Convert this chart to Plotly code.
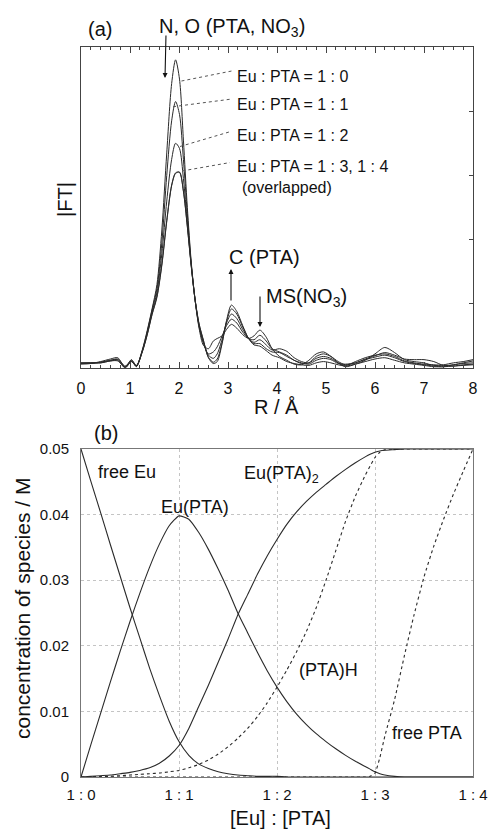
import plotly.graph_objects as go

# ---------------- (a) EXAFS Fourier transforms ----------------
R = [0.0, 0.2, 0.4, 0.6, 0.75, 0.9, 1.03, 1.13, 1.25, 1.35, 1.45, 1.55, 1.65, 1.75,
     1.85, 1.93, 2.01, 2.09, 2.17, 2.25, 2.33, 2.41, 2.5, 2.6, 2.7, 2.78, 2.88, 2.97,
     3.07, 3.18, 3.3, 3.42, 3.53, 3.65, 3.78, 3.9, 4.05, 4.2, 4.35, 4.5, 4.65, 4.8,
     4.95, 5.1, 5.25, 5.4, 5.6, 5.8, 6.0, 6.2, 6.4, 6.6, 6.8, 7.0, 7.2, 7.4, 7.6,
     7.8, 8.0]

ft_1_0 = [0.06, 0.07, 0.10, 0.14, 0.16, 0.01, 0.13, 0.03, 0.28, 0.58, 0.92, 1.30, 2.15, 3.35,
          4.43, 4.80, 4.50, 3.55, 2.50, 1.65, 1.05, 0.62, 0.35, 0.30, 0.42, 0.46, 0.50, 0.60,
          0.68, 0.62, 0.52, 0.46, 0.50, 0.59, 0.48, 0.30, 0.18, 0.12, 0.06, 0.05, 0.12, 0.22,
          0.25, 0.18, 0.08, 0.02, 0.06, 0.12, 0.22, 0.32, 0.24, 0.13, 0.10, 0.08, 0.04, 0.05,
          0.08, 0.10, 0.13]
ft_1_1 = [0.07, 0.07, 0.09, 0.12, 0.14, 0.03, 0.11, 0.02, 0.27, 0.56, 0.90, 1.24, 1.95, 3.00,
          3.85, 4.15, 3.95, 3.25, 2.40, 1.62, 1.05, 0.64, 0.38, 0.22, 0.25, 0.33, 0.50, 0.66,
          0.76, 0.70, 0.56, 0.46, 0.44, 0.51, 0.42, 0.30, 0.25, 0.20, 0.12, 0.07, 0.08, 0.18,
          0.22, 0.18, 0.10, 0.05, 0.08, 0.14, 0.19, 0.24, 0.20, 0.14, 0.13, 0.13, 0.10, 0.04,
          0.05, 0.07, 0.08]
ft_1_2 = [0.07, 0.08, 0.08, 0.11, 0.12, 0.00, 0.10, 0.03, 0.26, 0.54, 0.87, 1.18, 1.78, 2.60,
          3.25, 3.50, 3.42, 2.95, 2.28, 1.60, 1.05, 0.66, 0.40, 0.20, 0.15, 0.22, 0.45, 0.70,
          0.84, 0.77, 0.60, 0.46, 0.40, 0.44, 0.36, 0.28, 0.30, 0.26, 0.16, 0.10, 0.08, 0.15,
          0.18, 0.15, 0.08, 0.04, 0.10, 0.16, 0.20, 0.22, 0.18, 0.11, 0.08, 0.06, 0.05, 0.04,
          0.03, 0.05, 0.06]
ft_1_3 = [0.08, 0.08, 0.09, 0.12, 0.13, 0.02, 0.12, 0.04, 0.25, 0.52, 0.84, 1.12, 1.62, 2.30,
          2.85, 3.04, 3.05, 2.75, 2.20, 1.58, 1.05, 0.68, 0.42, 0.17, 0.09, 0.14, 0.40, 0.72,
          0.92, 0.84, 0.64, 0.46, 0.38, 0.38, 0.30, 0.25, 0.24, 0.18, 0.12, 0.08, 0.06, 0.12,
          0.15, 0.13, 0.07, 0.06, 0.08, 0.13, 0.17, 0.20, 0.16, 0.10, 0.07, 0.05, 0.03, 0.02,
          0.05, 0.08, 0.11]
ft_1_4 = [0.08, 0.08, 0.08, 0.11, 0.11, 0.01, 0.10, 0.03, 0.25, 0.51, 0.83, 1.10, 1.60, 2.28,
          2.84, 3.03, 3.05, 2.76, 2.21, 1.59, 1.06, 0.69, 0.43, 0.16, 0.07, 0.10, 0.38, 0.74,
          0.98, 0.88, 0.66, 0.46, 0.36, 0.34, 0.27, 0.20, 0.16, 0.10, 0.07, 0.05, 0.04, 0.08,
          0.10, 0.08, 0.05, 0.03, 0.06, 0.10, 0.14, 0.16, 0.12, 0.08, 0.06, 0.04, 0.02, 0.02,
          0.03, 0.04, 0.05]

ft_series = [ft_1_0, ft_1_1, ft_1_2, ft_1_3, ft_1_4]
ft_names = ["1:0", "1:1", "1:2", "1:3", "1:4"]
r_ticks = [0, 1, 2, 3, 4, 5, 6, 7, 8]

# ---------------- (b) speciation ----------------
ratio = [0.0, 0.1, 0.2, 0.3, 0.4, 0.5, 0.6, 0.7, 0.8, 0.9, 1.0, 1.1, 1.2, 1.3, 1.4, 1.5,
         1.6, 1.7, 1.8, 1.9, 2.0, 2.1, 2.2, 2.3, 2.4, 2.5, 2.6, 2.7, 2.8, 2.9, 2.95, 3.0,
         3.05, 3.1, 3.2, 3.3, 3.4, 3.5, 3.6, 3.7, 3.8, 3.9, 4.0]

free_eu = [0.0500, 0.0451, 0.0403, 0.0354, 0.0306, 0.0258, 0.0212, 0.0166, 0.0124, 0.0085,
           0.0054, 0.0033, 0.0020, 0.0013, 0.0008, 0.0005, 0.0003, 0.0002, 0.0001, 0.0001,
           0.0001, 0.0, 0.0, 0.0, 0.0, 0.0, 0.0, 0.0, 0.0, 0.0, 0.0, 0.0,
           0.0, 0.0, 0.0, 0.0, 0.0, 0.0, 0.0, 0.0, 0.0, 0.0, 0.0]
eu_pta = [0.0, 0.0049, 0.0097, 0.0145, 0.0192, 0.0237, 0.0280, 0.0320, 0.0355, 0.0383,
          0.0398, 0.0393, 0.0373, 0.0347, 0.0317, 0.0285, 0.0250, 0.0220, 0.0190, 0.0162,
          0.0137, 0.0115, 0.0096, 0.0080, 0.0066, 0.0054, 0.0043, 0.0033, 0.0024, 0.0016,
          0.0012, 0.0008, 0.0005, 0.0003, 0.0001, 0.0, 0.0, 0.0, 0.0, 0.0, 0.0, 0.0, 0.0]
eu_pta2 = [0.0, 0.0001, 0.0002, 0.0003, 0.0005, 0.0007, 0.0010, 0.0014, 0.0021, 0.0032,
           0.0048, 0.0074, 0.0107, 0.0140, 0.0175, 0.0210, 0.0247, 0.0278, 0.0309, 0.0337,
           0.0362, 0.0385, 0.0404, 0.0420, 0.0434, 0.0446, 0.0458, 0.0469, 0.0479, 0.0488,
           0.0492, 0.0495, 0.0497, 0.0498, 0.0499, 0.0500, 0.0500, 0.0500, 0.0500, 0.0500,
           0.0500, 0.0500, 0.0500]
pta_h = [0.0, 0.0, 0.0001, 0.0001, 0.0002, 0.0003, 0.0004, 0.0005, 0.0006, 0.0008,
         0.0010, 0.0014, 0.0019, 0.0026, 0.0035, 0.0046, 0.0059, 0.0074, 0.0092, 0.0113,
         0.0137, 0.0163, 0.0191, 0.0222, 0.0258, 0.0300, 0.0345, 0.0390, 0.0428, 0.0460,
         0.0474, 0.0487, 0.0495, 0.0499, 0.0500, 0.0500, 0.0500, 0.0500, 0.0500, 0.0500,
         0.0500, 0.0500, 0.0500]
free_pta = [0.0, 0.0, 0.0, 0.0, 0.0, 0.0, 0.0, 0.0, 0.0, 0.0, 0.0, 0.0, 0.0, 0.0, 0.0, 0.0,
            0.0, 0.0, 0.0, 0.0, 0.0, 0.0, 0.0, 0.0, 0.0, 0.0, 0.0, 0.0, 0.0, 0.0,
            0.0001, 0.0006, 0.0030, 0.0062, 0.0118, 0.0185, 0.0248, 0.0305, 0.0352, 0.0393,
            0.0431, 0.0466, 0.0500]

ratio_ticks = [0, 1, 2, 3, 4]
ratio_labels = ["1 : 0", "1 : 1", "1 : 2", "1 : 3", "1 : 4"]
conc_ticks = [0, 0.01, 0.02, 0.03, 0.04, 0.05]

# ---------------- figure ----------------
W, H = 488, 832
FONT = "Liberation Sans, Arial, sans-serif"
INK = "#2a2a2a"


def px(x):
    return x / W


def py(y):
    return 1 - y / H


fig = go.Figure()

for vals, name in zip(ft_series, ft_names):
    fig.add_trace(go.Scatter(x=R, y=vals, mode="lines", name=name,
                             line=dict(color=INK, width=1, shape="spline", smoothing=0.8),
                             xaxis="x", yaxis="y", showlegend=False))

species = [
    (free_eu, "free Eu", "solid"),
    (eu_pta, "Eu(PTA)", "solid"),
    (eu_pta2, "Eu(PTA)2", "solid"),
    (pta_h, "(PTA)H", "dot"),
    (free_pta, "free PTA", "dot"),
]
for vals, name, dash in species:
    fig.add_trace(go.Scatter(x=ratio, y=vals, mode="lines", name=name,
                             line=dict(color=INK, width=1.1, dash=dash, shape="spline", smoothing=0.5),
                             xaxis="x2", yaxis="y2", showlegend=False))

xdom = [px(81), px(473)]
fig.update_layout(
    width=W, height=H,
    margin=dict(l=0, r=0, t=0, b=0),
    paper_bgcolor="white", plot_bgcolor="white",
    font=dict(family=FONT, color="#111", size=16),
    showlegend=False,
    xaxis=dict(domain=xdom, anchor="y", range=[0, 8], tickvals=r_ticks,
               ticks="inside", ticklen=6, tickcolor="#444", tickwidth=1,
               minor=dict(ticks="inside", dtick=0.2, ticklen=3, tickcolor="#444"),
               showline=True, linecolor="#444", linewidth=1, mirror="ticks",
               showgrid=False, zeroline=False, automargin=False,
               tickfont=dict(size=16, family=FONT), ticklabelstandoff=6),
    yaxis=dict(domain=[py(368), py(47)], anchor="x", range=[0, 5], dtick=1,
               side="right", ticks="inside", ticklen=4, tickcolor="#444",
               showticklabels=False, showline=True, linecolor="#444", linewidth=1,
               mirror=True, showgrid=False, zeroline=False, automargin=False),
    xaxis2=dict(domain=xdom, anchor="y2", range=[0, 4], tickvals=ratio_ticks,
                ticktext=ratio_labels, ticks="", showline=True, linecolor="#777",
                linewidth=1, mirror=True, showgrid=True, gridcolor="#c4c4c4",
                griddash="dot", gridwidth=1, zeroline=False, automargin=False,
                tickfont=dict(size=15, family=FONT), ticklabelstandoff=4),
    yaxis2=dict(domain=[py(777), py(449)], anchor="x2", range=[0, 0.05],
                tickvals=conc_ticks, ticks="", showline=True, linecolor="#777",
                linewidth=1, mirror=True, showgrid=True, gridcolor="#c4c4c4",
                griddash="dot", gridwidth=1, zeroline=False, automargin=False,
                tickfont=dict(size=15, family=FONT), ticklabelstandoff=8),
)

ann = []


def text(x, y, s, size=16, xanchor="center", yanchor="middle", angle=0):
    ann.append(dict(x=px(x), y=py(y), xref="paper", yref="paper", text=s,
                    showarrow=False, xanchor=xanchor, yanchor=yanchor,
                    textangle=angle, font=dict(size=size, family=FONT, color="#111")))


def arrow(x0, y0, x1, y1):
    # tail (x0,y0) -> head (x1,y1), window pixel coordinates
    ann.append(dict(x=px(x1), y=py(y1), xref="paper", yref="paper", text="",
                    showarrow=True, ax=x0 - x1, ay=y0 - y1, axref="pixel", ayref="pixel",
                    arrowhead=2, arrowsize=0.9, arrowwidth=1.1, arrowcolor="#111"))


# panel (a)
text(100, 29, "(a)", 20)
text(232, 27, "N, O (PTA, NO<sub>3</sub>)", 20)
arrow(166, 34, 165, 78)
text(235, 76, "Eu : PTA = 1 : 0", 16, xanchor="left")
text(235, 104, "Eu : PTA = 1 : 1", 16, xanchor="left")
text(235, 135, "Eu : PTA = 1 : 2", 16, xanchor="left")
text(235, 166, "Eu : PTA = 1 : 3, 1 : 4", 16, xanchor="left")
text(240, 188, "(overlapped)", 16, xanchor="left")
text(264, 257, "C (PTA)", 20)
arrow(231, 302, 231, 269)
text(264, 297, "MS(NO<sub>3</sub>)", 20, xanchor="left")
arrow(260, 295, 260, 327)
text(65, 200, "|FT|", 20, angle=-90)
text(276, 407, "R / Å", 20)

# panel (b)
text(106, 433, "(b)", 20)
text(127, 472, "free Eu", 18)
text(195, 507, "Eu(PTA)", 18)
text(242, 474, "Eu(PTA)<sub>2</sub>", 18, xanchor="left")
text(328, 670, "(PTA)H", 18)
text(427, 733, "free PTA", 18)
text(22, 609, "concentration of species / M", 21, angle=-90)
text(280, 818, "[Eu] : [PTA]", 20)

fig.update_layout(annotations=ann)

# dotted leader lines from labels to the peaks (data coordinates of panel a)
leaders = [((2.05, 4.47), (3.10, 4.63)),
           ((1.88, 4.07), (3.08, 4.19)),
           ((2.02, 3.45), (3.04, 3.68)),
           ((2.07, 3.07), (3.04, 3.20))]
for (x0, y0), (x1, y1) in leaders:
    fig.add_shape(type="line", x0=x0, y0=y0, x1=x1, y1=y1, xref="x", yref="y",
                  line=dict(color="#555", width=1, dash="dot"))

# remove the default 8px page margin so the 488x832 figure fills the window exactly
fig.write_html("out.html",
               config={"displayModeBar": False},
               post_script="document.body.style.margin='0';"
                           "document.documentElement.style.overflow='hidden';")
